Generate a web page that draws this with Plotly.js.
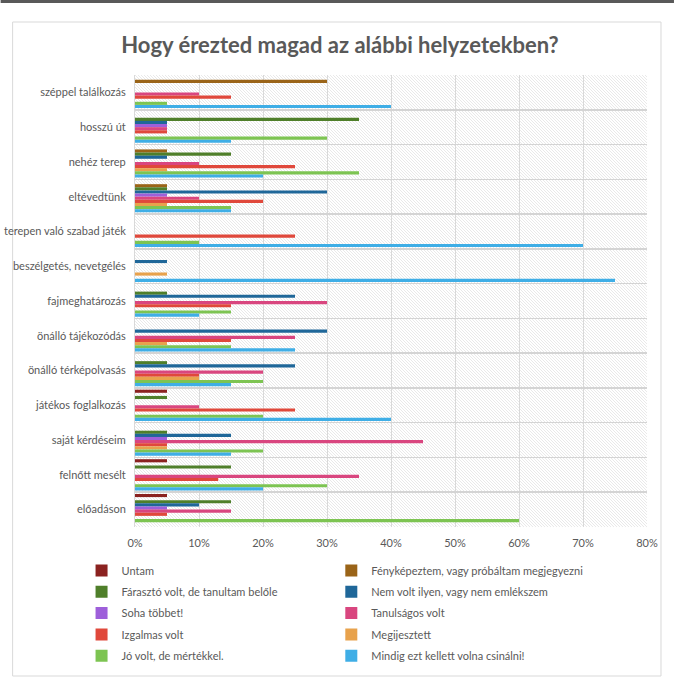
<!DOCTYPE html>
<html>
<head>
<meta charset="utf-8">
<script src="https://cdn.plot.ly/plotly-3.0.1.min.js"></script>
<style>html,body{margin:0;padding:0;background:#fff;}#chart{width:674px;height:683px;}</style>
</head>
<body>
<div id="chart"></div>
<script>
// Categories, top to bottom
const categories = [
  "széppel találkozás",
  "hosszú út",
  "nehéz terep",
  "eltévedtünk",
  "terepen való szabad játék",
  "beszélgetés, nevetgélés",
  "fajmeghatározás",
  "önálló tájékozódás",
  "önálló térképolvasás",
  "játékos foglalkozás",
  "saját kérdéseim",
  "felnőtt mesélt",
  "előadáson"
];

const seriesNames = [
  "Untam",
  "Fényképeztem, vagy próbáltam megjegyezni",
  "Fárasztó volt, de tanultam belőle",
  "Nem volt ilyen, vagy nem emlékszem",
  "Soha többet!",
  "Tanulságos volt",
  "Izgalmas volt",
  "Megijesztett",
  "Jó volt, de mértékkel.",
  "Mindig ezt kellett volna csinálni!"
];

// Values in percent, same order as categories
const untam        = [0, 0, 0, 0, 0, 0, 0, 0, 0, 5, 0, 5, 5];
const fenykepeztem = [30, 0, 5, 5, 0, 0, 0, 0, 0, 0, 0, 0, 0];
const faraszto     = [0, 35, 15, 5, 0, 0, 5, 0, 5, 5, 5, 15, 15];
const nemVolt      = [0, 5, 5, 30, 0, 5, 25, 30, 25, 0, 15, 0, 10];
const sohaTobbet   = [0, 5, 0, 5, 0, 0, 0, 0, 0, 0, 5, 0, 5];
const tanulsagos   = [10, 5, 10, 10, 0, 0, 30, 25, 20, 10, 45, 35, 15];
const izgalmas     = [15, 5, 25, 20, 25, 0, 15, 15, 10, 25, 5, 13, 5];
const megijesztett = [0, 0, 5, 5, 0, 5, 0, 5, 10, 0, 5, 0, 0];
const joVolt       = [5, 30, 35, 15, 10, 0, 15, 15, 20, 20, 20, 30, 60];
const mindig       = [40, 15, 20, 15, 70, 75, 10, 25, 15, 40, 15, 20, 0];

const seriesValues = [untam, fenykepeztem, faraszto, nemVolt, sohaTobbet,
  tanulsagos, izgalmas, megijesztett, joVolt, mindig];

const xTickVals = [0, 10, 20, 30, 40, 50, 60, 70, 80];
const xTickText = ["0%", "10%", "20%", "30%", "40%", "50%", "60%", "70%", "80%"];

const colors = ["#8B2220", "#9A6418", "#4F7F2A", "#1F6799", "#9E5FDA",
  "#D9467F", "#E0483B", "#E8A24C", "#7DC452", "#3FAEE6"];

const FONT = "Lato, 'Open Sans', sans-serif";
const GREY = "#595959";

const traces = seriesNames.map((name, i) => ({
  type: "bar",
  orientation: "h",
  name: name,
  y: categories,
  x: seriesValues[i],
  marker: { color: colors[i] },
  legend: (i % 2 === 0) ? "legend" : "legend2",
  legendgroup: "g" + i,
  hoverinfo: "x+y+name"
}));

// hatch background as svg data uri
const hatch = '<svg xmlns="http://www.w3.org/2000/svg" width="512" height="452">' +
  '<defs><pattern id="p" width="3" height="3" patternUnits="userSpaceOnUse">' +
  '<rect width="3" height="3" fill="#ffffff"/>' +
  '<path d="M-1,-1 l5,5 M-1,2 l2,2 M2,-1 l2,2" stroke="#e0e0e0" stroke-width="0.7"/>' +
  '</pattern></defs><rect width="512" height="452" fill="url(#p)"/></svg>';
const hatchUri = "data:image/svg+xml;charset=utf-8," + encodeURIComponent(hatch);

// pixel helpers for frame shapes
const L = 134.5, R = 27, T = 75, B = 156, W = 674, H = 683;
const pw = W - L - R, ph = H - T - B;
const px = v => (v - L) / pw;
const py = v => (H - B - v) / ph;

const legendBase = {
  orientation: "v",
  yanchor: "top",
  xanchor: "left",
  itemwidth: 30,
  tracegroupgap: 2.3,
  traceorder: "grouped",
  font: { family: FONT, size: 11, color: GREY },
  bgcolor: "rgba(0,0,0,0)"
};

const layout = {
  width: W,
  height: H,
  margin: { l: L, r: R, t: T, b: B },
  paper_bgcolor: "#ffffff",
  plot_bgcolor: "rgba(0,0,0,0)",
  font: { family: FONT, color: GREY, size: 11 },
  title: {
    text: "<b>Hogy érezted magad az alábbi helyzetekben?</b>",
    font: { family: FONT, size: 22, color: GREY },
    x: 340 / W, xref: "container", xanchor: "center",
    y: 1 - 45 / H, yref: "container", yanchor: "middle"
  },
  barmode: "group",
  bargap: 0.1,
  bargroupgap: 0,
  showlegend: true,
  xaxis: {
    range: [0, 80],
    tickvals: xTickVals,
    ticktext: xTickText,
    showgrid: true,
    gridcolor: "#d9d9d9",
    gridwidth: 1,
    zeroline: false,
    showline: false,
    ticks: "",
    ticklabelstandoff: 8,
    tickfont: { family: FONT, size: 11, color: GREY },
    fixedrange: true
  },
  yaxis: {
    type: "category",
    autorange: "reversed",
    tickson: "boundaries",
    showgrid: true,
    gridcolor: "#d4d4d4",
    gridwidth: 1.5,
    showline: true,
    linecolor: "#d9d9d9",
    linewidth: 1,
    ticks: "",
    ticklabelstandoff: 6,
    tickfont: { family: FONT, size: 11, color: GREY },
    fixedrange: true
  },
  legend: Object.assign({}, legendBase, { x: px(81), y: py(556) }),
  legend2: Object.assign({}, legendBase, { x: px(331), y: py(556) }),
  images: [{
    source: hatchUri,
    xref: "paper", yref: "paper",
    x: 0, y: 1, sizex: 1, sizey: 1,
    xanchor: "left", yanchor: "top",
    sizing: "stretch",
    layer: "below"
  }],
  shapes: [
    { type: "rect", xref: "paper", yref: "paper",
      x0: px(12), x1: px(661), y0: py(676), y1: py(22),
      line: { color: "#d9d9d9", width: 1 }, fillcolor: "rgba(0,0,0,0)", layer: "below" },
    { type: "rect", xref: "paper", yref: "paper",
      x0: px(0), x1: px(674), y0: py(3), y1: py(0),
      line: { width: 0 }, fillcolor: "#595959", layer: "below" }
  ]
};

Plotly.newPlot("chart", traces, layout, { displayModeBar: false, staticPlot: true });
</script>
</body>
</html>
